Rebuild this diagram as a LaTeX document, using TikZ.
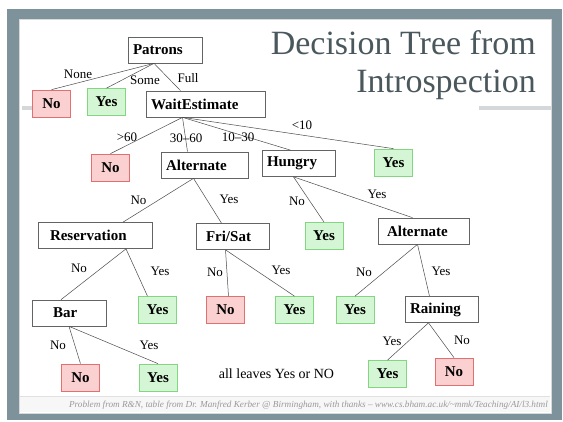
\documentclass[tikz,border=0pt]{standalone}
\usepackage{fontspec}
\setmainfont{Liberation Serif}
\usepackage{tikz}
\definecolor{framegray}{RGB}{125,146,155}
\definecolor{titlegray}{RGB}{74,88,94}
\definecolor{barline}{RGB}{212,216,218}
\definecolor{nofill}{RGB}{250,208,208}
\definecolor{nodraw}{RGB}{226,112,112}
\definecolor{yesfill}{RGB}{212,246,212}
\definecolor{yesdraw}{RGB}{130,214,130}
\definecolor{boxdraw}{RGB}{100,100,100}

\tikzset{
  test/.style={draw=boxdraw, fill=white, line width=0.7pt, text width=#1, align=left,
    inner xsep=5pt, minimum height=26pt, font=\fontsize{15}{15}\selectfont\bfseries},
  leafno/.style={draw=nodraw, fill=nofill, line width=0.7pt, minimum width=38pt,
    minimum height=27pt, inner sep=0pt, font=\fontsize{15}{15}\selectfont\bfseries},
  leafyes/.style={draw=yesdraw, fill=yesfill, line width=0.7pt, minimum width=38pt,
    minimum height=27pt, inner sep=0pt, font=\fontsize{15}{15}\selectfont\bfseries},
  lab/.style={font=\fontsize{13}{13}\selectfont, inner sep=0pt},
  branch/.style={draw=black!70, line width=0.5pt}
}

\begin{document}
\begin{tikzpicture}[x=1pt, y=-1pt]
    \useasboundingbox (0,0) rectangle (563,422);
    % Draw the slide
    \fill[white] (0,0) rectangle (563,422);
    \fill[framegray] (7,9) rectangle (562,420);
    \filldraw[fill=white, draw=black!15] (19,19) rectangle (551,413);
    \fill[black!3] (20,397) rectangle (550,412);
    \draw[black!12, line width=1pt] (20,397) -- (550,397);
    \fill[barline] (22,106) rectangle (32,110);
    \fill[barline] (479,106) rectangle (551,110);
    % Title and credit
    \node[anchor=base east, text=titlegray, font=\fontsize{34}{34}\selectfont, inner sep=0pt] (titleone) at (536,55) {Decision Tree from};
    \node[anchor=base east, text=titlegray, font=\fontsize{34}{34}\selectfont, inner sep=0pt] (titletwo) at (536,93) {Introspection};
    \node[anchor=base east, text=black!40, font=\itshape\fontsize{9.2}{9.2}\selectfont, inner sep=0pt] (credit) at (548,408)
        {Problem from R\&N, table from Dr. Manfred Kerber @ Birmingham, with thanks -- www.cs.bham.ac.uk/\textasciitilde mmk/Teaching/AI/l3.html};
    % Draw the tests
    \node[test=64pt] (patrons) at (165,50) {Patrons};
    \node[test=109pt] (wait) at (205.5,104) {WaitEstimate};
    \node[test=77pt] (alt) at (204.5,165) {Alternate};
    \node[test=63pt] (hungry) at (298.5,163.5) {Hungry};
    \node[test=90pt, inner xsep=12pt] (reserv) at (95,235.5) {Reservation};
    \node[test=53pt, inner xsep=10pt] (frisat) at (232.5,236.5) {Fri/Sat};
    \node[test=73pt, inner xsep=9pt] (alttwo) at (423.5,231) {Alternate};
    \node[test=32pt, inner xsep=21pt] (bar) at (69,313) {Bar};
    \node[test=63pt] (rain) at (441.5,309.5) {Raining};
    % Draw the leaves
    \node[leafno] (nonone) at (51.5,103.5) {No};
    \node[leafyes] (yessome) at (106.5,102) {Yes};
    \node[leafno] (nosixty) at (110.5,167.5) {No};
    \node[leafyes] (yesten) at (393.5,162.5) {Yes};
    \node[leafyes] (yeshungry) at (324,236) {Yes};
    \node[leafyes] (yesreserv) at (157.5,310) {Yes};
    \node[leafno] (nofrisat) at (225.5,310) {No};
    \node[leafyes] (yesfrisat) at (294.5,310) {Yes};
    \node[leafyes] (yesalttwo) at (355,310) {Yes};
    \node[leafno] (nobar) at (80.5,377.5) {No};
    \node[leafyes] (yesbar) at (158,377.5) {Yes};
    \node[leafyes] (yesrain) at (387.5,374) {Yes};
    \node[leafno] (norain) at (454,371.5) {No};
    % Draw the branches
    \draw[branch] ([xshift=-11pt]patrons.south) -- (nonone.north);
    \draw[branch] ([xshift=-11pt]patrons.south) -- (yessome.north);
    \draw[branch] ([xshift=-11pt]patrons.south) -- ([xshift=-25pt]wait.north);
    \draw[branch] ([xshift=-23pt]wait.south) -- (nosixty.north);
    \draw[branch] ([xshift=-23pt]wait.south) -- ([xshift=-17pt]alt.north);
    \draw[branch] ([xshift=-23pt]wait.south) -- ([xshift=-8pt]hungry.north);
    \draw[branch] ([xshift=-23pt]wait.south) -- (yesten.north);
    \draw[branch] ([xshift=-11pt]alt.south) -- ([xshift=28pt]reserv.north);
    \draw[branch] ([xshift=-11pt]alt.south) -- ([xshift=-11pt]frisat.north);
    \draw[branch] ([xshift=-5pt]hungry.south) -- (yeshungry.north);
    \draw[branch] ([xshift=-5pt]hungry.south) -- ([xshift=-11pt]alttwo.north);
    \draw[branch] ([xshift=31pt]reserv.south) -- ([xshift=-8pt]bar.north);
    \draw[branch] ([xshift=31pt]reserv.south) -- ([xshift=-10pt]yesreserv.north);
    \draw[branch] ([xshift=-7pt]frisat.south) -- ([xshift=3pt]nofrisat.north);
    \draw[branch] ([xshift=-7pt]frisat.south) -- (yesfrisat.north);
    \draw[branch] ([xshift=-6pt]alttwo.south) -- (yesalttwo.north);
    \draw[branch] ([xshift=-6pt]alttwo.south) -- ([xshift=-12pt]rain.north);
    \draw[branch] (bar.south) -- (nobar.north);
    \draw[branch] (bar.south) -- (yesbar.north);
    \draw[branch] ([xshift=-13pt]rain.south) -- (yesrain.north);
    \draw[branch] ([xshift=-13pt]rain.south) -- (norain.north);
    % Branch labels
    \node[lab] (lnone) at (78,74) {None};
    \node[lab] (lsome) at (145,80) {Some};
    \node[lab] (lfull) at (188,78) {Full};
    \node[lab] (lsixty) at (127,137) {>60};
    \node[lab] (lthirty) at (186,138) {30--60};
    \node[lab] (lten) at (238,137) {10--30};
    \node[lab] (lless) at (302,125) {<10};
    \node[lab] (laltno) at (138.5,200) {No};
    \node[lab] (laltyes) at (229,199) {Yes};
    \node[lab] (lhungryno) at (297,201) {No};
    \node[lab] (lhungryyes) at (377,194) {Yes};
    \node[lab] (lreservno) at (79,268) {No};
    \node[lab] (lreservyes) at (160,271) {Yes};
    \node[lab] (lfrisatno) at (215,272) {No};
    \node[lab] (lfrisatyes) at (281,270) {Yes};
    \node[lab] (lalttwono) at (364,272) {No};
    \node[lab] (lalttwoyes) at (441,271) {Yes};
    \node[lab] (lbarno) at (58,345) {No};
    \node[lab] (lbaryes) at (149,345) {Yes};
    \node[lab] (lrainyes) at (392,341) {Yes};
    \node[lab] (lrainno) at (462,340) {No};
    % Note
    \node[font=\fontsize{14}{14}\selectfont, inner sep=0pt] (note) at (276.5,374) {all leaves Yes or NO};
\end{tikzpicture}
\end{document}
